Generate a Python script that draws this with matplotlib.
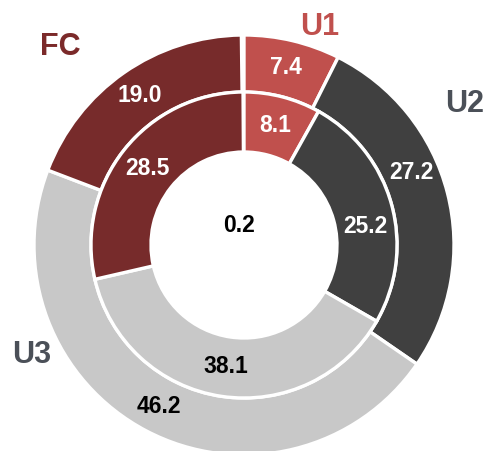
import matplotlib.pyplot as plt
import numpy as np

plt.rcParams["font.family"] = ["Liberation Sans", "DejaVu Sans"]

categories = ["U1", "U2", "U3", "FC"]
outer_values = [7.4, 27.2, 46.2, 19.0]
inner_values = [8.1, 25.2, 38.1, 28.5]
center_value = "0.2"

colors = ["#C0504D", "#404040", "#C8C8C8", "#772B2B"]
value_colors = ["white", "white", "black", "white"]
name_colors = ["#C0504D", "#4B5058", "#4B5058", "#7B2A2A"]

# label nudges (degrees) where the source chart moved a label off the mid angle
outer_shift = [0, 9, 0, 0]
inner_shift = [0, -7, 0, 0]

# category label positions in axes fraction
name_pos = [(0.657, 0.94), (0.955, 0.77), (0.065, 0.213), (0.123, 0.896)]

fig = plt.figure(figsize=(4.87, 4.51), dpi=100)
ax = fig.add_axes([0, 0, 1, 1])

r_outer = 210
r_mid = 153
r_hole = 93

wedge_style = dict(edgecolor="white", linewidth=2.4)

outer, _ = ax.pie(
    np.array(outer_values) / 100,
    radius=r_outer,
    startangle=90,
    counterclock=False,
    colors=colors,
    normalize=False,
    wedgeprops=dict(width=r_outer - r_mid, **wedge_style),
)

inner, _ = ax.pie(
    np.array(inner_values) / 100,
    radius=r_mid,
    startangle=90,
    counterclock=False,
    colors=colors,
    normalize=False,
    wedgeprops=dict(width=r_mid - r_hole, **wedge_style),
)


def put_values(wedges, values, shifts, r):
    for w, v, c, s in zip(wedges, values, value_colors, shifts):
        ang = np.deg2rad((w.theta1 + w.theta2) / 2 + s)
        ax.text(
            r * np.cos(ang),
            r * np.sin(ang),
            f"{v:.1f}",
            ha="center",
            va="center",
            fontsize=16.5,
            fontweight="bold",
            color=c,
        )


put_values(outer, outer_values, outer_shift, (r_outer + r_mid) / 2 + 1)
put_values(inner, inner_values, inner_shift, (r_mid + r_hole) / 2)

ax.text(-5, 20, center_value, ha="center", va="center",
        fontsize=16.5, fontweight="bold", color="black")

for name, (x, y), c in zip(categories, name_pos, name_colors):
    ax.text(x, y, name, transform=ax.transAxes, ha="center", va="center",
            fontsize=22, fontweight="bold", color=c)

ax.set_xlim(-244, 243)
ax.set_ylim(-206, 245)
ax.set_aspect("equal", adjustable="box")
ax.axis("off")

fig.savefig("out.png", dpi=100)
plt.close(fig)
